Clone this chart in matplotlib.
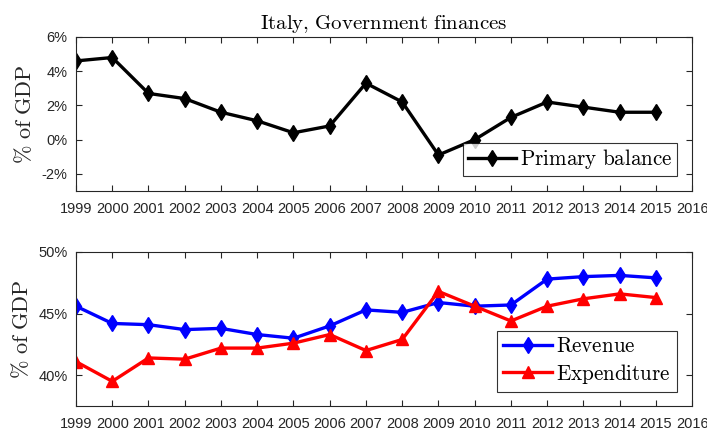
import matplotlib
matplotlib.use('Agg')
import matplotlib.pyplot as plt
from matplotlib.ticker import FuncFormatter

years = list(range(1999, 2016))
primary_balance = [4.6, 4.8, 2.7, 2.4, 1.6, 1.1, 0.4, 0.8, 3.3, 2.2, -0.9, 0.0, 1.3, 2.2, 1.9, 1.6, 1.6]
revenue = [45.6, 44.2, 44.1, 43.7, 43.8, 43.3, 43.0, 44.0, 45.3, 45.1, 45.9, 45.6, 45.7, 47.8, 48.0, 48.1, 47.9]
expenditure = [41.1, 39.5, 41.4, 41.3, 42.2, 42.2, 42.6, 43.3, 42.0, 42.9, 46.8, 45.6, 44.4, 45.6, 46.2, 46.6, 46.3]
xticks = list(range(1999, 2017))
top_yticks = [-2, 0, 2, 4, 6]
bottom_yticks = [40, 45, 50]

plt.rcParams['mathtext.fontset'] = 'cm'
plt.rcParams['font.family'] = ['Liberation Sans', 'DejaVu Sans']
axis_grey = '#262626'


def style_axes(ax):
    ax.set_xlim(1999, 2016)
    ax.set_xticks(xticks)
    ax.tick_params(direction='in', top=True, right=True, length=4, width=0.8,
                   labelsize=10.5, colors=axis_grey)
    ax.tick_params(axis='x', pad=8)
    ax.tick_params(axis='y', pad=6)
    for sp in ax.spines.values():
        sp.set_color(axis_grey)
        sp.set_linewidth(0.8)
    ax.yaxis.set_major_formatter(FuncFormatter(lambda v, p: f'{v:.0f}%'))
    ax.set_ylabel(r'$\mathrm{\%\ of\ GDP}$', fontsize=16, color=axis_grey, labelpad=4)


fig = plt.figure(figsize=(7.07, 4.32), dpi=100)
ax1 = fig.add_axes([0.1075, 0.558, 0.8715, 0.3564])
ax2 = fig.add_axes([0.1075, 0.0602, 0.8715, 0.3565])

ax1.plot(years, primary_balance, color='black', lw=2.4, marker='d', ms=8,
         label=r'$\mathrm{Primary\ balance}$')
ax1.set_ylim(-3, 6)
ax1.set_yticks(top_yticks)
style_axes(ax1)
ax1.set_title(r'$\mathrm{Italy{,}\ Government\ finances}$', fontsize=15, pad=6)
leg1 = ax1.legend(loc='lower right', bbox_to_anchor=(0.9756, 0.099), fontsize=15.2,
                  frameon=True, fancybox=False, edgecolor='black', handlelength=2.3,
                  borderpad=0.2, handletextpad=0.2, borderaxespad=0.0)
leg1.get_frame().set_linewidth(0.8)

ax2.plot(years, revenue, color='blue', lw=2.4, marker='d', ms=8, label=r'$\mathrm{Revenue}$')
ax2.plot(years, expenditure, color='red', lw=2.4, marker='^', ms=8, label=r'$\mathrm{Expenditure}$')
ax2.set_ylim(37.5, 50)
ax2.set_yticks(bottom_yticks)
style_axes(ax2)
leg2 = ax2.legend(loc='lower right', bbox_to_anchor=(0.9756, 0.091), fontsize=15.2,
                  frameon=True, fancybox=False, edgecolor='black', handlelength=2.3,
                  borderpad=0.3, handletextpad=0.2, labelspacing=0.25, borderaxespad=0.0)
leg2.get_frame().set_linewidth(0.8)

fig.savefig('out.png', dpi=100)
